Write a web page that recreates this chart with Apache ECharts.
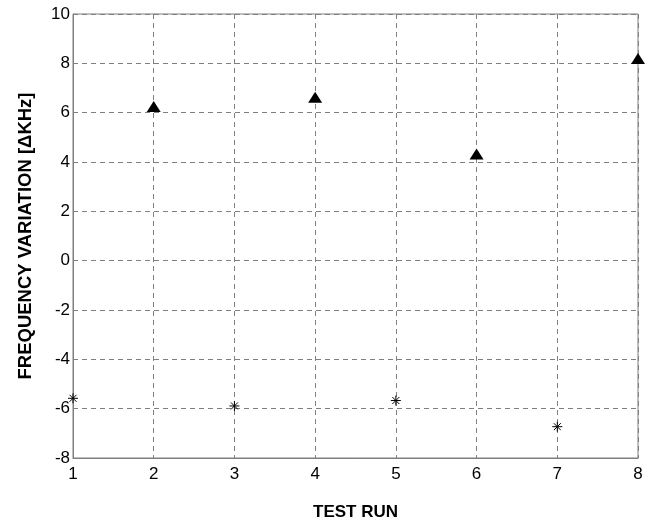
<!DOCTYPE html>
<html>
<head>
<meta charset="utf-8">
<script src="https://cdn.jsdelivr.net/npm/echarts@6/dist/echarts.min.js"></script>
<style>html,body{margin:0;padding:0;background:#fff}#c{width:655px;height:523px}</style>
</head>
<body>
<div id="c"></div>
<script>
var triRuns = [2, 4, 6, 8];
var triValues = [6.25, 6.63, 4.32, 8.2];
var starRuns = [1, 3, 5, 7];
var starValues = [-5.58, -5.89, -5.67, -6.73];
var xTicks = [1, 2, 3, 4, 5, 6, 7, 8];
var yTicks = [-8, -6, -4, -2, 0, 2, 4, 6, 8, 10];

function pairs(xs, ys) { return xs.map(function (x, i) { return [x, ys[i]]; }); }

var chart = echarts.init(document.getElementById('c'));
var fontFam = '"Liberation Sans", Arial, Helvetica, sans-serif';
chart.setOption({
  animation: false,
  grid: { left: 73, right: 17, top: 14, bottom: 65, show: true, borderColor: '#7f7f7f', borderWidth: 1,
          containLabel: false, outerBoundsMode: 'none' },
  xAxis: {
    type: 'value', min: 1, max: 8, interval: 1,
    name: 'TEST RUN', nameLocation: 'middle', nameGap: 46,
    nameTextStyle: { fontFamily: fontFam, fontWeight: 'bold', fontSize: 17, color: '#000' },
    axisLine: { show: true, onZero: false, lineStyle: { color: '#7f7f7f' } },
    axisTick: { show: false },
    axisLabel: { fontFamily: fontFam, fontSize: 17, color: '#000', margin: 8 },
    splitLine: { show: true, lineStyle: { color: '#808080', type: [5, 4], width: 1 } }
  },
  yAxis: {
    type: 'value', min: -8, max: 10, interval: 2,
    name: 'FREQUENCY VARIATION [\u0394KHz]', nameLocation: 'middle', nameGap: 38,
    nameTextStyle: { fontFamily: fontFam, fontWeight: 'bold', fontSize: 18.5, color: '#000' },
    axisLine: { show: true, onZero: false, lineStyle: { color: '#7f7f7f' } },
    axisTick: { show: false },
    axisLabel: { fontFamily: fontFam, fontSize: 17, color: '#000', margin: 3 },
    splitLine: { show: true, lineStyle: { color: '#808080', type: [5, 4], width: 1 } }
  },
  series: [
    {
      type: 'scatter', data: pairs(triRuns, triValues), clip: false,
      symbol: 'triangle', symbolSize: [14, 11],
      itemStyle: { color: '#000', opacity: 1 }
    },
    {
      type: 'scatter', data: pairs(starRuns, starValues), clip: false,
      symbol: 'path://M0,5L10,5M5,0L5,10M1.5,1.5L8.5,8.5M8.5,1.5L1.5,8.5',
      symbolSize: 10,
      itemStyle: { color: 'none', borderColor: '#000', borderWidth: 1, opacity: 1 }
    }
  ]
});
</script>
</body>
</html>
